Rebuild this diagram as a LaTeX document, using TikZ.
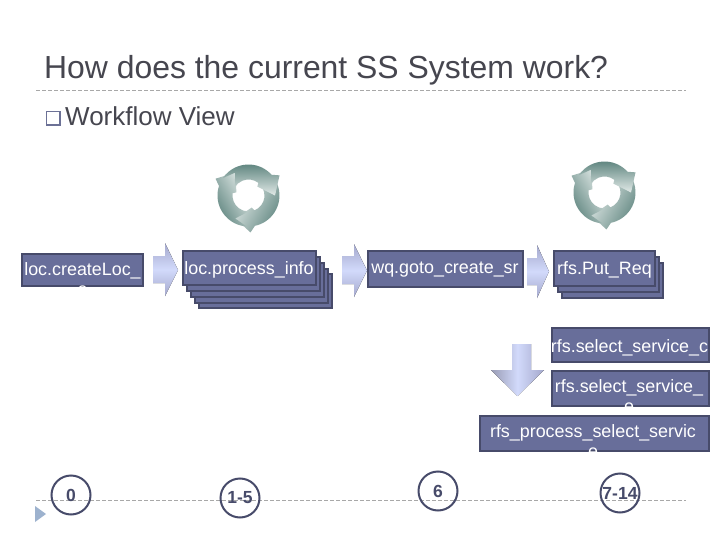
\documentclass[tikz,border=0pt]{standalone}
\usepackage{fontspec}
\setmainfont{Liberation Sans}
\definecolor{boxfill}{HTML}{686E9A}
\definecolor{boxline}{HTML}{474B6A}
\definecolor{inkgray}{HTML}{46464F}
\definecolor{ruleg}{HTML}{A8A8A8}
\definecolor{arrowlight}{HTML}{D2DAFB}
\definecolor{arrowdark}{HTML}{A4A8CC}
\definecolor{ringdark}{HTML}{5F857F}
\definecolor{ringlight}{HTML}{E2EAE8}
\definecolor{pagemark}{HTML}{9DB2CE}
\tikzset{
  flowbox/.style={draw=boxline,line width=2pt,fill=boxfill,inner sep=0pt},
  flowtext/.style={text=white,inner sep=0pt,anchor=base,font=\fontsize{17.9}{21}\selectfont},
  stepring/.style={draw=boxline,line width=2pt,circle,minimum size=39pt,inner sep=0pt,text=boxline,font=\bfseries\fontsize{17.5}{20}\selectfont},
  hrule/.style={draw=ruleg,line width=0.8pt,dash pattern=on 4pt off 2pt},
  harrow/.style={top color=arrowdark,bottom color=arrowdark,middle color=arrowlight,draw=none},
  varrow/.style={left color=arrowdark!70!gray,right color=arrowdark,middle color=arrowlight,draw=none},
}
\newcommand{\boxat}[5]{\node[flowbox,minimum width=#3pt-2pt,minimum height=#4pt-2pt] (#5) at (#1,#2) {};}
\newcommand{\cyclearrow}[2]{%
  \path[left color=ringdark,right color=ringlight,shading angle=#2]
    (#1-146:31) arc[start angle=#1-146,end angle=#1-42,radius=31]
    -- (#1-33:37) -- (#1:26.5) -- (#1-45:12.5) -- (#1-52:16)
    arc[start angle=#1-52,end angle=#1-150,radius=16] -- (#1-120:26.5) -- cycle;}
\newcommand{\cycleicon}[2]{%
  \begin{scope}[shift={(#1,#2)}]
    \cyclearrow{120}{240}
    \cyclearrow{240}{120}
    \cyclearrow{0}{0}
  \end{scope}}
\begin{document}
\begin{tikzpicture}[x=1pt,y=1pt,yscale=-1]
\useasboundingbox (0,0) rectangle (720,540);
\fill[white] (0,0) rectangle (720,540);

% title and bullet
\node[anchor=base west,inner sep=0pt,text=inkgray,font=\fontsize{31.9}{38}\selectfont] (title) at (44,79) {How does the current SS System work?};
\coordinate (ruleA) at (36,90);
\coordinate (ruleB) at (686,90);
\draw[hrule] (ruleA) -- (ruleB);
\node[draw=boxfill!85!gray,line width=1.5pt,minimum size=13.5pt,inner sep=0pt] (bullet) at (53,118.5) {};
\node[anchor=base west,inner sep=0pt,text=inkgray,font=\fontsize{26}{31}\selectfont] (wf) at (65,126) {Workflow View};

% cycle icons
\cycleicon{248.5}{195.5}
\cycleicon{604.5}{192.5}

% block arrows
\fill[harrow] (153,256) -- (165,256) -- (165,243) -- (178,270) -- (165,296) -- (165,283) -- (153,283) -- cycle;
\fill[harrow] (342,256) -- (354,256) -- (354,244) -- (367,270.5) -- (354,297) -- (354,284) -- (342,284) -- cycle;
\fill[harrow] (527,258) -- (537,258) -- (537,245) -- (549,271.5) -- (537,298) -- (537,285) -- (527,285) -- cycle;
\fill[varrow] (512,344) -- (531,344) -- (531,370) -- (544,370) -- (517.5,396) -- (491,370) -- (512,370) -- cycle;

% first box
\boxat{82.5}{270}{123}{34}{locA}
\node[flowtext] (locAt) at (82.5,275) {loc.createLoc\_};
\node[flowtext] (locAe) at (82.5,295) {e};

% process info stack
\boxat{265.5}{291}{135}{36}{pd}
\boxat{261.5}{285.5}{135}{36}{pc}
\boxat{257.5}{280}{135}{36}{pb}
\boxat{253.5}{274}{135}{36}{pa}
\boxat{249.5}{268}{135}{36}{pz}
\node[flowtext] (pt) at (249,274) {loc.process\_info};

% wq box
\boxat{445.5}{269}{157}{38}{wq}
\node[flowtext] (wqt) at (445,273) {wq.goto\_create\_sr};

% put stack
\boxat{612.5}{280.5}{103}{37}{rb}
\boxat{608.5}{274.5}{103}{37}{ra}
\boxat{604.5}{268.5}{103}{37}{rz}
\node[flowtext] (rt) at (604.5,274) {rfs.Put\_Req};

% select boxes
\boxat{630.5}{345}{159}{36}{sa}
\node[flowtext] (sat) at (629.5,352) {rfs.select\_service\_c};
\boxat{630.5}{388.5}{159}{37}{sb}
\node[flowtext] (sbt) at (629,392) {rfs.select\_service\_};
\node[flowtext] (sbe) at (629,412) {e};
\boxat{594.5}{433.5}{231}{37}{sc}
\node[flowtext] (sct) at (593,437) {rfs\_process\_select\_servic};
\node[flowtext] (sce) at (593,457) {e};

% bottom rule, circles
\coordinate (ruleC) at (36,500);
\coordinate (ruleD) at (686,500);
\draw[hrule] (ruleC) -- (ruleD);
\fill[pagemark] (35,506) -- (46,514) -- (35,522) -- cycle;
\node[stepring] (c0) at (71,495) {0};
\node[stepring] (c1) at (240,498) {\raisebox{-2pt}{1-5}};
\node[stepring] (c2) at (438,491) {6};
\node[stepring] (c3) at (620,493) {7-14};
\end{tikzpicture}
\end{document}
